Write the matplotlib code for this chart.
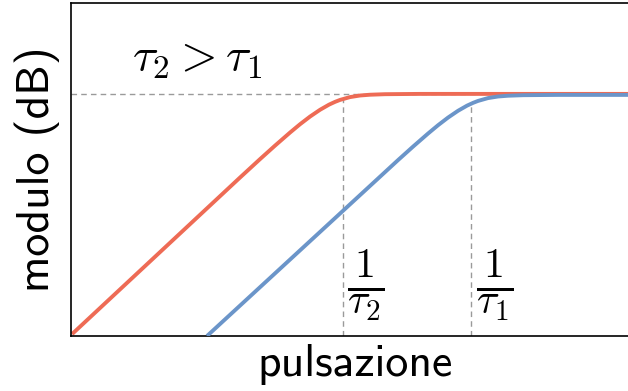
import matplotlib
matplotlib.use("Agg")
import matplotlib.pyplot as plt

plt.rcParams['mathtext.fontset'] = 'cm'
plt.rcParams['font.family'] = ['cmss10', 'DejaVu Sans']
plt.rcParams['axes.unicode_minus'] = False

w_tau2 = [0.00764, 0.1567, 0.2246, 0.2943, 0.3853, 0.4613, 0.5524, 0.6613,
          0.7772, 0.8660, 0.9475, 1.134, 1.358, 1.625, 2.128, 4.0, 210]
db_tau2 = [-40.68, -14.17, -11.05, -8.76, -6.55, -5.14, -3.84, -2.69,
           -1.82, -1.35, -1.02, -0.54, -0.27, -0.14, -0.05, 0.0, 0.0]

w_tau1 = [0.0866, 1.876, 2.688, 3.523, 4.612, 5.522, 6.612, 7.916,
          9.303, 10.37, 11.34, 13.57, 16.26, 19.45, 25.47, 47.9, 210]
db_tau1 = [-41.0, -14.34, -11.22, -8.93, -6.72, -5.31, -4.01, -2.86,
           -1.99, -1.52, -1.19, -0.71, -0.44, -0.31, -0.22, -0.17, -0.17]

# pulsazioni di taglio 1/tau e modulo della curva in quel punto
w_cut = [1.0, 10.0]
db_cut = [-0.9, -1.7]
cut_labels = [r'$\frac{1}{\tau_2}$', r'$\frac{1}{\tau_1}$']

red = '#ee6b55'
blue = '#6b95c9'
grey = '#9a9a9a'

fig = plt.figure(figsize=(6.28, 3.91), dpi=100)
ax = fig.add_axes([0.1131, 0.1407, 0.906, 0.8517])
ax.set_xscale('log')
ax.set_xlim(0.0075, 209)
ax.set_ylim(-41.0, 15.4)

ax.axhline(0, color=grey, lw=1, ls=(0, (4, 3)), zorder=1)
ax.vlines(w_cut, -41.0, db_cut, color=grey, lw=1, ls=(0, (4, 3)), zorder=1)

ax.plot(w_tau2, db_tau2, color=red, lw=2.8, solid_capstyle='butt',
        solid_joinstyle='round', zorder=2)
ax.plot(w_tau1, db_tau1, color=blue, lw=2.8, solid_capstyle='butt',
        solid_joinstyle='round', zorder=3)

ax.text(0.107, 0.83, r'$\tau_2 > \tau_1$', transform=ax.transAxes,
        fontsize=34, ha='left', va='center')
ax.text(0.518, 0.153, cut_labels[0], transform=ax.transAxes,
        fontsize=43, ha='center', va='center')
ax.text(0.745, 0.153, cut_labels[1], transform=ax.transAxes,
        fontsize=43, ha='center', va='center')

ax.set_xticks([])
ax.set_yticks([])
ax.minorticks_off()
ax.tick_params(which='both', length=0)
for s in ['left', 'bottom', 'top']:
    ax.spines[s].set_linewidth(1.2)
ax.spines['right'].set_visible(False)

ax.set_xlabel('pulsazione', fontsize=33, labelpad=6)
ax.set_ylabel('modulo (dB)', fontsize=33, labelpad=8)

fig.savefig('out.png', dpi=100)
